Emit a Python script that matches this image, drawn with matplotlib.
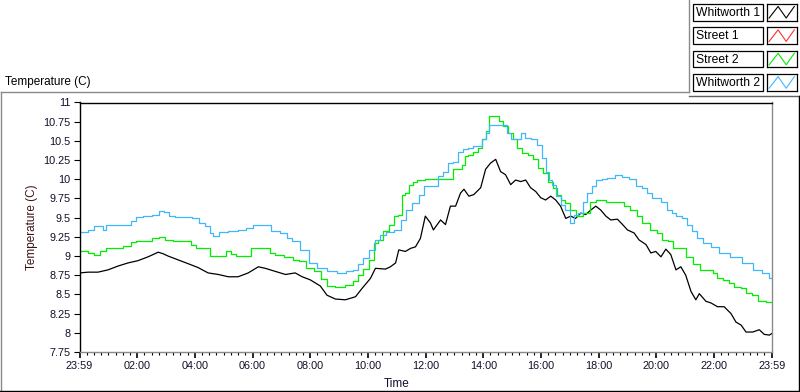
# temperature logger chart, LabVIEW style
import matplotlib
matplotlib.use("Agg")
import matplotlib.pyplot as plt
from matplotlib.lines import Line2D
from matplotlib.patches import Rectangle
from matplotlib.ticker import MultipleLocator, FixedLocator

plt.rcParams['font.family'] = ['Liberation Sans', 'DejaVu Sans']

# hours since 23:59 of the previous day
black_t = [0.0, 0.30, 0.64, 0.99, 1.34, 1.68, 2.03, 2.38, 2.73, 2.90,
           3.07, 3.42, 3.77, 4.11, 4.46, 4.81, 5.16, 5.50, 5.85, 6.20,
           6.44, 6.79, 7.14, 7.48, 7.72, 8.00, 8.35, 8.58, 8.87, 9.22,
           9.57, 9.80, 10.09, 10.26, 10.61, 10.78, 10.96, 11.07, 11.30, 11.48,
           11.65, 11.82, 11.99, 12.17, 12.27, 12.52, 12.69, 12.86, 13.04, 13.21,
           13.33, 13.50, 13.67, 13.91, 14.08, 14.25, 14.43, 14.60, 14.77, 14.95,
           15.12, 15.30, 15.47, 15.64, 15.82, 15.99, 16.16, 16.34, 16.51, 16.68,
           16.86, 17.03, 17.20, 17.38, 17.55, 17.73, 17.90, 18.07, 18.25, 18.42,
           18.65, 18.83, 19.00, 19.23, 19.40, 19.64, 19.81, 19.98, 20.16, 20.33,
           20.50, 20.68, 20.85, 21.02, 21.20, 21.37, 21.49, 21.72, 21.89, 22.12,
           22.35, 22.59, 22.76, 22.94, 23.11, 23.34, 23.57, 23.74, 23.92, 24.0]
whitworth1 = [8.78, 8.79, 8.79, 8.82, 8.87, 8.91, 8.94, 8.99, 9.05, 9.03,
              9.00, 8.95, 8.90, 8.85, 8.78, 8.76, 8.73, 8.73, 8.78, 8.86,
              8.84, 8.80, 8.76, 8.78, 8.73, 8.69, 8.61, 8.49, 8.44, 8.43,
              8.47, 8.58, 8.71, 8.84, 8.83, 8.86, 8.91, 9.08, 9.06, 9.10,
              9.12, 9.23, 9.52, 9.43, 9.34, 9.47, 9.41, 9.65, 9.65, 9.82,
              9.87, 9.78, 9.80, 9.89, 10.13, 10.21, 10.26, 10.10, 10.06, 9.93,
              9.99, 9.97, 9.99, 9.89, 9.84, 9.76, 9.73, 9.78, 9.73, 9.65,
              9.49, 9.52, 9.49, 9.56, 9.54, 9.60, 9.65, 9.60, 9.52, 9.47,
              9.48, 9.41, 9.34, 9.30, 9.21, 9.15, 9.04, 9.06, 8.99, 9.09,
              9.02, 8.82, 8.86, 8.75, 8.54, 8.43, 8.51, 8.41, 8.39, 8.34,
              8.34, 8.25, 8.14, 8.10, 8.01, 8.01, 8.04, 7.98, 7.97, 7.99]

street1_t = []
street1 = []

green_t = [0.0, 0.18, 0.41, 0.58, 0.82, 0.99, 1.34, 1.68, 1.86, 2.03,
           2.38, 2.67, 2.84, 3.07, 3.42, 3.77, 3.94, 4.11, 4.46, 4.58,
           4.98, 5.16, 5.33, 5.50, 5.85, 6.02, 6.20, 6.56, 6.67, 6.90,
           7.31, 7.48, 7.72, 8.00, 8.29, 8.47, 8.70, 9.05, 9.39, 9.57,
           9.74, 9.91, 10.15, 10.26, 10.43, 10.61, 10.84, 10.96, 11.13, 11.24,
           11.36, 11.48, 11.65, 11.76, 12.17, 12.52, 12.86, 13.04, 13.21, 13.33,
           13.39, 13.56, 13.73, 13.91, 14.02, 14.14, 14.25, 14.48, 14.60, 14.77,
           14.95, 15.12, 15.24, 15.47, 15.64, 15.82, 15.99, 16.16, 16.34, 16.51,
           16.62, 16.74, 16.92, 17.09, 17.32, 17.61, 17.78, 18.07, 18.42, 18.83,
           18.94, 19.23, 19.40, 19.64, 19.92, 20.10, 20.27, 20.56, 20.62, 20.97,
           21.08, 21.49, 21.55, 21.89, 22.01, 22.18, 22.47, 22.59, 22.82, 23.05,
           23.17, 23.45, 23.62, 24.0]
street2 = [9.07, 9.07, 9.04, 9.02, 9.07, 9.10, 9.10, 9.13, 9.18, 9.20,
           9.20, 9.23, 9.25, 9.21, 9.20, 9.20, 9.15, 9.10, 9.10, 9.00,
           9.00, 9.06, 9.03, 9.00, 9.00, 9.10, 9.10, 9.10, 9.04, 9.02,
           8.99, 8.95, 8.93, 8.84, 8.80, 8.70, 8.61, 8.60, 8.62, 8.67,
           8.75, 8.83, 8.95, 9.17, 9.21, 9.32, 9.41, 9.52, 9.54, 9.80,
           9.82, 9.93, 9.97, 9.99, 10.01, 10.01, 10.01, 10.13, 10.13, 10.19,
           10.30, 10.32, 10.36, 10.41, 10.52, 10.63, 10.82, 10.82, 10.76, 10.69,
           10.60, 10.52, 10.41, 10.34, 10.32, 10.26, 10.15, 10.08, 9.97, 9.89,
           9.80, 9.73, 9.69, 9.60, 9.52, 9.56, 9.71, 9.73, 9.71, 9.70,
           9.65, 9.60, 9.52, 9.43, 9.34, 9.30, 9.21, 9.19, 9.10, 9.10,
           8.99, 8.90, 8.82, 8.82, 8.78, 8.71, 8.69, 8.65, 8.60, 8.58,
           8.52, 8.49, 8.41, 8.40]

blue_t = [0.0, 0.18, 0.41, 0.58, 0.76, 0.88, 0.99, 1.34, 1.68, 1.86,
          2.03, 2.38, 2.67, 2.84, 3.01, 3.19, 3.42, 3.77, 4.06, 4.23,
          4.46, 4.58, 4.69, 4.98, 5.33, 5.68, 5.85, 6.20, 6.56, 6.73,
          7.14, 7.25, 7.48, 7.83, 8.06, 8.41, 8.76, 9.10, 9.39, 9.57,
          9.74, 9.91, 10.15, 10.32, 10.55, 10.72, 11.07, 11.19, 11.42, 11.65,
          11.88, 12.00, 12.34, 12.52, 12.69, 12.86, 13.04, 13.21, 13.39, 13.56,
          13.73, 13.91, 14.02, 14.14, 14.25, 14.77, 14.89, 15.01, 15.24, 15.35,
          15.53, 15.76, 15.99, 16.10, 16.22, 16.34, 16.45, 16.62, 16.74, 16.92,
          17.09, 17.20, 17.38, 17.55, 17.67, 17.84, 18.01, 18.19, 18.42, 18.71,
          18.88, 19.23, 19.35, 19.64, 19.69, 20.04, 20.27, 20.44, 20.62, 20.74,
          21.02, 21.14, 21.31, 21.49, 21.78, 22.01, 22.35, 22.76, 23.17, 23.51,
          23.80, 24.0]
whitworth2 = [9.31, 9.31, 9.34, 9.39, 9.39, 9.34, 9.41, 9.41, 9.41, 9.45,
              9.51, 9.52, 9.54, 9.59, 9.58, 9.52, 9.51, 9.51, 9.50, 9.43,
              9.39, 9.30, 9.26, 9.31, 9.33, 9.34, 9.36, 9.41, 9.41, 9.32,
              9.30, 9.23, 9.19, 9.08, 8.91, 8.84, 8.80, 8.78, 8.80, 8.82,
              8.89, 8.97, 9.08, 9.21, 9.28, 9.31, 9.34, 9.47, 9.60, 9.69,
              9.80, 9.91, 9.91, 10.04, 10.10, 10.21, 10.23, 10.36, 10.39, 10.41,
              10.43, 10.43, 10.52, 10.60, 10.71, 10.71, 10.60, 10.52, 10.52, 10.60,
              10.54, 10.52, 10.45, 10.28, 10.10, 9.99, 9.93, 9.78, 9.67, 9.60,
              9.43, 9.54, 9.56, 9.71, 9.82, 9.91, 9.99, 10.01, 10.02, 10.05,
              10.03, 10.00, 9.91, 9.89, 9.82, 9.76, 9.71, 9.60, 9.56, 9.52,
              9.49, 9.41, 9.32, 9.23, 9.17, 9.12, 9.04, 8.99, 8.91, 8.82,
              8.78, 8.71]

names = ['Whitworth 1', 'Street 1', 'Street 2', 'Whitworth 2']
colors = ['#000000', '#ff3030', '#00ee00', '#40b8f8']
series = [(black_t, whitworth1), (street1_t, street1),
          (green_t, street2), (blue_t, whitworth2)]
# the loggers with coarse resolution are drawn as steps
styles = ['default', 'steps-mid', 'steps-mid', 'steps-mid']

time_ticks = [0, 2, 4, 6, 8, 10, 12, 14, 16, 18, 20, 22, 24]
time_labels = ['23:59', '02:00', '04:00', '06:00', '08:00', '10:00', '12:00',
               '14:00', '16:00', '18:00', '20:00', '22:00', '23:59']
temp_ticks = [7.75, 8, 8.25, 8.5, 8.75, 9, 9.25, 9.5, 9.75, 10, 10.25,
              10.5, 10.75, 11]

W, H = 800, 392
fig = plt.figure(figsize=(8, 3.92), dpi=100)


def fx(px):
    return px / W


def fy(py):
    return 1 - py / H


ax = fig.add_axes([fx(79.5), fy(352), fx(771.7) - fx(79.5), fy(102.5) - fy(352)])
for (t, v), c, ds in zip(series, colors, styles):
    ax.plot(t, v, color=c, lw=0.9, drawstyle=ds)

ax.set_xlim(0, 24)
ax.set_ylim(7.75, 11)
ax.xaxis.set_major_locator(FixedLocator(time_ticks))
ax.set_xticklabels(time_labels)
ax.xaxis.set_minor_locator(MultipleLocator(0.25))
ax.set_yticks(temp_ticks)
ax.set_yticklabels(['%g' % v for v in temp_ticks])

tick_col = '#10102a'
ax.tick_params(axis='both', which='major', direction='out', length=4.5,
               width=1.2, labelsize=7.8, colors='black', labelcolor=tick_col, pad=2)
ax.tick_params(axis='x', which='minor', direction='out', length=2.5, width=0.8)
ax.tick_params(axis='y', which='major', width=0.8)

for side in ['left', 'top']:
    ax.spines[side].set_color('black')
    ax.spines[side].set_linewidth(1.0)
for side in ['right', 'bottom']:
    ax.spines[side].set_color('#8a8a8a')
    ax.spines[side].set_linewidth(1.0)

fig.text(fx(32), fy(227), 'Temperature (C)', rotation=90, ha='center',
         va='center', fontsize=8.5, color='#3a1414')
fig.text(fx(397), fy(384), 'Time', ha='center', va='center', fontsize=8.5,
         color=tick_col)
fig.text(fx(5), fy(82), 'Temperature (C)', ha='left', va='center',
         fontsize=8.5, color='black')

# panel frame
frame = [((1, 92), (689, 92), '#8a8a8a'),
         ((689, 0), (689, 92), '#8a8a8a'),
         ((689, 96), (800, 96), '#606060'),
         ((1, 92), (1, 392), '#8a8a8a'),
         ((798.5, 96), (798.5, 392), 'black'),
         ((0, 391), (800, 391), 'black')]
for (x0, y0), (x1, y1), c in frame:
    fig.add_artist(Line2D([fx(x0), fx(x1)], [fy(y0), fy(y1)], color=c,
                          lw=1.0, transform=fig.transFigure))

# legend boxes
for i, (name, c) in enumerate(zip(names, colors)):
    top = 4 + 23.4 * i
    h = 16.5
    fig.add_artist(Rectangle((fx(692.7), fy(top + h)), fx(70), h / H,
                             transform=fig.transFigure, fc='white',
                             ec='black', lw=0.9))
    fig.text(fx(695.5), fy(top + h / 2 + 0.5), name, ha='left', va='center',
             fontsize=8.7, color='black')
    iax = fig.add_axes([fx(766.7), fy(top + h), fx(30), h / H])
    iax.plot([0.08, 0.38, 0.65, 0.92], [0.15, 0.85, 0.15, 0.85], color=c,
             lw=0.8)
    iax.set_xlim(0, 1)
    iax.set_ylim(0, 1)
    iax.set_xticks([])
    iax.set_yticks([])
    for s in iax.spines.values():
        s.set_color('black')
        s.set_linewidth(0.9)

fig.savefig('out.png', dpi=100)
